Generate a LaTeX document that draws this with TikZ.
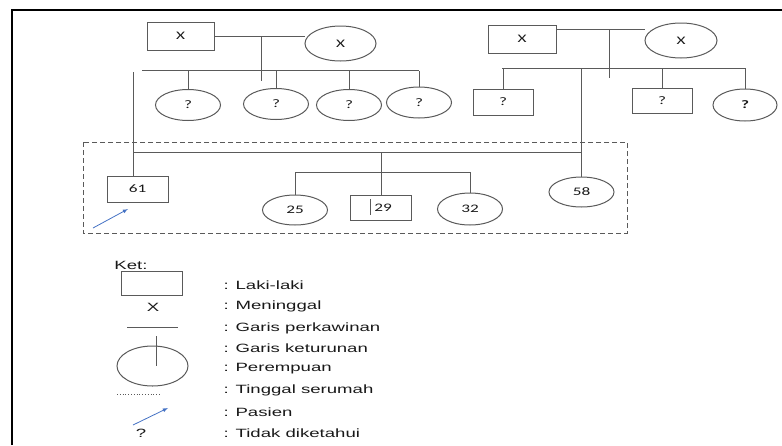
\documentclass[tikz,border=0pt]{standalone}
\usepackage{fontspec}
\setmainfont{Liberation Sans}
\newfontfamily\calfont[FakeStretch=1.5]{Carlito}
\newfontfamily\ketfont[FakeStretch=1.55]{Liberation Sans}
\usetikzlibrary{shapes.geometric}
\definecolor{linegray}{HTML}{5A5A5A}
\definecolor{pasienblue}{HTML}{4472C4}
\begin{document}
\begin{tikzpicture}[x=1pt,y=-1pt,
  male/.style={draw=linegray,line width=1pt,inner sep=0pt,minimum width=61pt,minimum height=26pt,font=\calfont\fontsize{11.5}{13}\selectfont,text=black!90},
  female/.style={ellipse,draw=linegray,line width=1pt,inner sep=0pt,minimum width=65pt,minimum height=31pt,font=\calfont\fontsize{11.5}{13}\selectfont,text=black!90},
  ln/.style={draw=linegray,line width=1pt},
  ket/.style={anchor=west,font=\ketfont\fontsize{12}{14}\selectfont,text=black!90}]
\useasboundingbox (0,0) rectangle (782,445);
% frame
\draw[line width=1.5pt] (12,445) -- (12,10) -- (782,10);
% left grandparents
\node[male,minimum width=67pt,minimum height=28pt] (gfL) at (180.5,36) {X};
\node[female,minimum width=71pt,minimum height=35pt] (gmL) at (340.5,43.5) {X};
\draw[ln] (gfL.east) -- (gfL.east -| gmL.west);
\coordinate (mL) at (261,36);
\draw[ln] (mL) -- ++(0,45);
\node[female] (auL1) at (188,105) {?};
\node[female] (auL2) at (276,104) {?};
\node[female] (auL3) at (349,105) {?};
\node[female] (auL4) at (419,102.5) {?};
\coordinate (sibL) at (142,70.7);
\draw[ln] (sibL) -- (sibL -| auL4.north);
\foreach \n in {auL1,auL2,auL3,auL4}
  \draw[ln] (\n.north) -- (\n.north |- sibL);
% right grandparents
\node[male,minimum width=68pt,minimum height=28pt] (gfR) at (522,39) {X};
\node[female,minimum width=72pt,minimum height=35pt] (gmR) at (681,40.5) {X};
\draw[ln] ([yshift=10pt]gfR.east) -- ([yshift=10pt]gfR.east -| gmR.west);
\coordinate (mR) at (609,29);
\draw[ln] (mR) -- ++(0,49);
\node[male,minimum width=60pt] (unR1) at (503,102) {?};
\node[male,minimum width=60pt,minimum height=25pt] (unR2) at (662,100.5) {?};
\node[female,minimum width=64pt,minimum height=32pt,font=\calfont\bfseries\fontsize{11.5}{13}\selectfont] (auR3) at (745,105) {?};
\coordinate (sibR) at (502,68.3);
\draw[ln] (sibR) -- (sibR -| auR3.north);
\foreach \n in {unR1,unR2,auR3}
  \draw[ln] (\n.north) -- (\n.north |- sibR);
% parents and children
\node[male] (pasien) at (137.5,189) {61};
\node[female,minimum height=30pt] (ibu) at (581.5,192) {58};
\coordinate (ayahTop) at (133,72);
\draw[ln] (ayahTop) -- (ayahTop |- pasien.north);
\draw[ln] (ibu.north |- sibR) -- (ibu.north);
\coordinate (fam) at (133,152.7);
\draw[ln] (fam) -- (fam -| ibu.north);
\node[female,minimum height=30pt] (anak1) at (295,210) {25};
\node[male,minimum height=25pt] (anak2) at (381,208) {\hspace{4pt}29};
\node[female,minimum height=32pt] (anak3) at (470,209) {32};
\draw[ln] (anak2.north |- fam) -- (anak2.north);
\coordinate (kids) at (0,172.7);
\draw[ln] (anak1.north) -- (anak1.north |- kids) -- (anak3.north |- kids) -- (anak3.north);
\draw[ln,line width=0.8pt] ([xshift=-11pt,yshift=-4pt]anak2.north) -- ++(0,-16pt);
% serumah
\draw[linegray,line width=1pt,dash pattern=on 5pt off 3pt] (83,142) rectangle (627,233);
\draw[pasienblue,line width=0.8pt,-latex] (93,228) -- (128,209);
% keterangan
\node[font=\ketfont\fontsize{12}{14}\selectfont,text=black!90] (ket) at (131,265) {Ket:};
\node[draw=linegray,line width=1pt,minimum width=61pt,minimum height=24pt,inner sep=0pt] (kL) at (151.5,283) {};
\node[font=\ketfont\fontsize{12}{14}\selectfont,text=black!90] (kX) at (153,307) {X};
\draw[ln] (127,327) -- (178,327);
\node[ellipse,draw=linegray,line width=1pt,minimum width=71pt,minimum height=40pt,inner sep=0pt] (kP) at (152.5,366) {};
\draw[ln] (156,336) -- (156,366);
\draw[linegray,line width=0.8pt,dotted] (117,394) -- (160,394);
\draw[pasienblue,line width=0.8pt,-latex] (133,425) -- (168,408);
\node[font=\ketfont\fontsize{12}{14}\selectfont,text=black!90] (kQ) at (141,433) {?};
\node[ket] at (220,285) {: Laki-laki};
\node[ket] at (220,306) {: Meninggal};
\node[ket] at (220,328) {: Garis perkawinan};
\node[ket] at (220,348) {: Garis keturunan};
\node[ket] at (220,369) {: Perempuan};
\node[ket] at (220,390) {: Tinggal serumah};
\node[ket] at (220,412) {: Pasien};
\node[ket] at (220,433) {: Tidak diketahui};
\end{tikzpicture}
\end{document}
